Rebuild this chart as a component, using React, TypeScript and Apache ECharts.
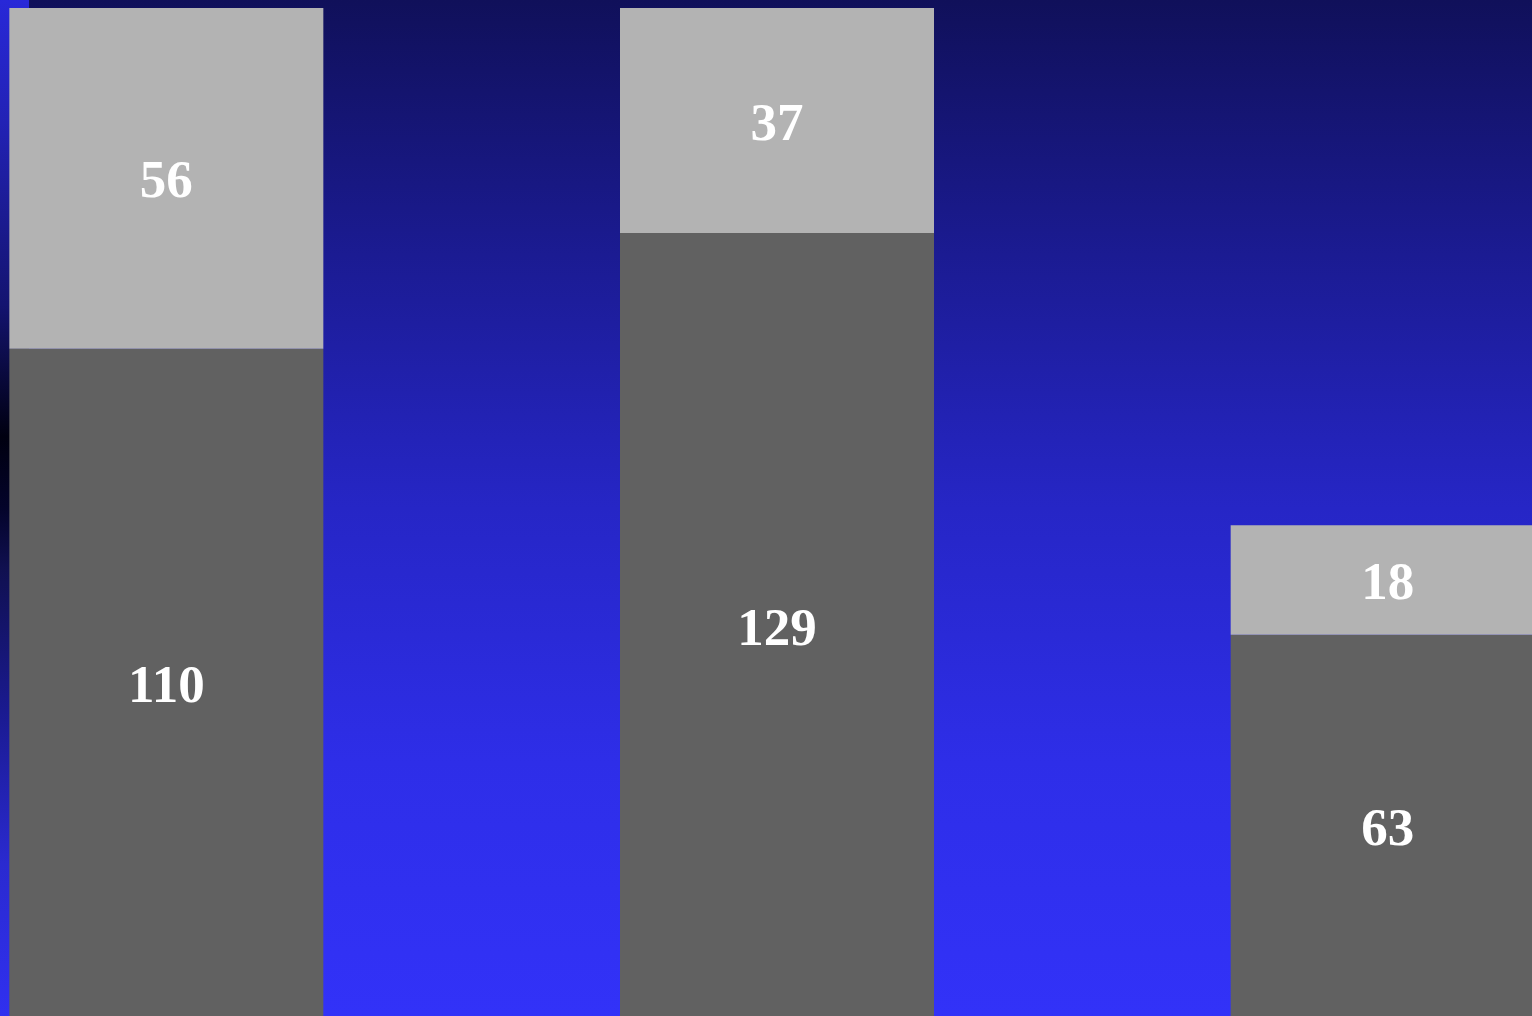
import React, { useEffect, useRef } from "react";
import * as echarts from "echarts";

const categories = ["A", "B", "C"];
const lowerValues = [110, 129, 63];
const upperValues = [56, 37, 18];

const OFFSET_X = 139;

export default function App() {
  const ref = useRef<HTMLDivElement>(null);
  useEffect(() => {
    if (!ref.current) return;
    const chart = echarts.init(ref.current, undefined, { renderer: "svg" });
    const label = {
      show: true,
      position: "inside" as const,
      color: "#ffffff",
      fontFamily: "Liberation Serif",
      fontWeight: "bold" as const,
      fontSize: 53,
      offset: [0, 1],
    };
    chart.setOption({
      animation: false,
      backgroundColor: {
        type: "linear",
        x: 0, y: 0, x2: 0, y2: 1,
        colorStops: [
          { offset: 0, color: "#10105a" },
          { offset: 0.25, color: "#1b1b92" },
          { offset: 0.5, color: "#2626c6" },
          { offset: 0.75, color: "#2e2ee8" },
          { offset: 1, color: "#3232f8" },
        ],
      },
      graphic: [
        {
          type: "rect",
          z: -1,
          shape: { x: OFFSET_X, y: 0, width: 29, height: 1016 },
          style: {
            fill: {
              type: "linear",
              x: 0, y: 0, x2: 0, y2: 1,
              colorStops: [
                { offset: 0, color: "#2828d8" },
                { offset: 0.12, color: "#2222b5" },
                { offset: 0.3, color: "#141470" },
                { offset: 0.43, color: "#000010" },
                { offset: 0.5, color: "#04042a" },
                { offset: 0.56, color: "#101050" },
                { offset: 0.7, color: "#1a1a90" },
                { offset: 0.85, color: "#2a2ad0" },
                { offset: 1, color: "#3030f0" },
              ],
            },
          },
        },
      ],
      grid: { left: 0, right: 0, top: 8, bottom: -2, containLabel: false, outerBoundsMode: "none" },
      xAxis: {
        type: "category",
        data: categories,
        show: false,
      },
      yAxis: {
        type: "value",
        min: 0,
        max: 166,
        show: false,
        splitLine: { show: false },
      },
      series: [
        {
          type: "bar",
          stack: "total",
          data: lowerValues,
          barWidth: 314,
          itemStyle: { color: "#616161" },
          label,
          z: 5,
        },
        {
          type: "bar",
          stack: "total",
          data: upperValues,
          barWidth: 314,
          itemStyle: { color: "#b3b3b3" },
          label,
          z: 5,
        },
      ],
    });
    return () => chart.dispose();
  }, []);
  return (
    <div
      style={{
        position: "fixed",
        left: 0,
        top: 0,
        width: 1532,
        height: 1016,
        overflow: "hidden",
      }}
    >
      <div
        ref={ref}
        style={{ position: "absolute", left: -OFFSET_X, top: 0, width: 1832, height: 1016 }}
      />
    </div>
  );
}
